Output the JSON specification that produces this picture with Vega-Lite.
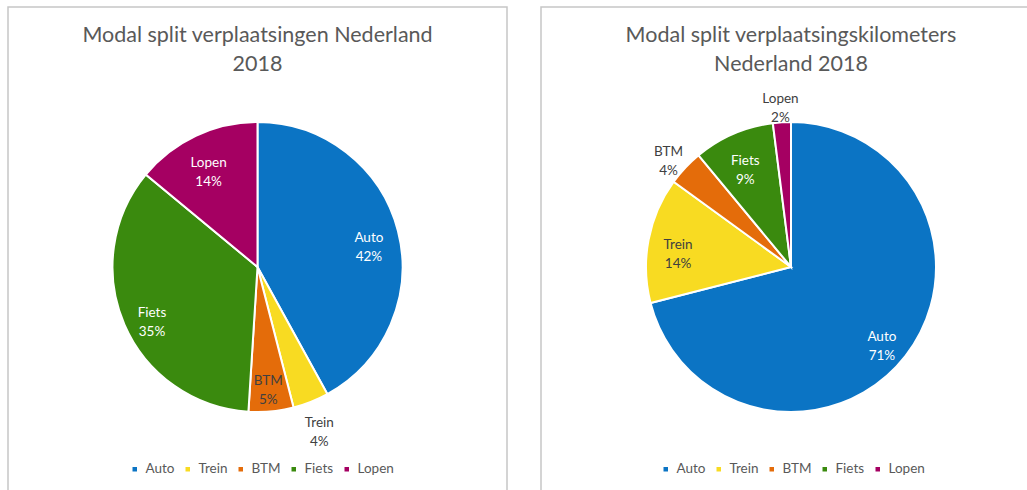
{
  "$schema": "https://vega.github.io/schema/vega-lite/v6.json",
  "background": "white",
  "padding": {"left": 7, "top": 6, "right": 0, "bottom": 0},
  "spacing": 32,
  "config": {
    "view": {"stroke": "#c6c6c6", "strokeWidth": 1.5},
    "font": "Lato",
    "title": {"font": "Lato", "fontSize": 21.5, "fontWeight": "normal", "color": "#595959", "lineHeight": 29, "anchor": "middle", "offset": -68},
    "legend": {"orient": "none", "legendY": 455, "direction": "horizontal", "symbolType": "square", "symbolSize": 36, "labelFontSize": 13.5, "labelColor": "#595959", "labelFont": "Lato", "columnPadding": 6, "labelOffset": 4, "title": null}
  },
  "datasets": {
    "verplaatsingen": [
      {"modaliteit": "Auto", "aandeel": 42, "rang": 1},
      {"modaliteit": "Trein", "aandeel": 4, "rang": 2},
      {"modaliteit": "BTM", "aandeel": 5, "rang": 3},
      {"modaliteit": "Fiets", "aandeel": 35, "rang": 4},
      {"modaliteit": "Lopen", "aandeel": 14, "rang": 5}
    ],
    "kilometers": [
      {"modaliteit": "Auto", "aandeel": 71, "rang": 1},
      {"modaliteit": "Trein", "aandeel": 14, "rang": 2},
      {"modaliteit": "BTM", "aandeel": 4, "rang": 3},
      {"modaliteit": "Fiets", "aandeel": 9, "rang": 4},
      {"modaliteit": "Lopen", "aandeel": 2, "rang": 5}
    ]
  },
  "resolve": {"scale": {"color": "independent"}, "legend": {"color": "independent"}},
  "hconcat": [
    {
      "width": 499,
      "height": 520,
      "view": {"stroke": "#c6c6c6", "strokeWidth": 1.5, "fill": "white"},
      "title": {"text": ["Modal split verplaatsingen Nederland", "2018"]},
      "data": {"name": "verplaatsingen"},
      "transform": [{"calculate": "datum.modaliteit + '\\n' + datum.aandeel + '%'", "as": "label"}],
      "encoding": {
        "theta": {"field": "aandeel", "type": "quantitative", "stack": true},
        "order": {"field": "rang", "type": "quantitative"}
      },
      "layer": [
        {
          "mark": {"type": "arc", "outerRadius": 145, "stroke": "white", "strokeWidth": 2},
          "encoding": {
            "color": {"field": "modaliteit", "type": "nominal",
              "scale": {"domain": ["Auto", "Trein", "BTM", "Fiets", "Lopen"], "range": ["#0B74C4", "#F8DB22", "#E46C0A", "#3A8A0E", "#A50062"]},
              "legend": {"legendX": 120}}
          }
        },
        {
          "mark": {"type": "text", "radius": 115, "fontSize": 13.5, "lineBreak": "\n", "lineHeight": 19, "font": "Lato"},
          "encoding": {
            "text": {"condition": {"test": "datum.aandeel >= 5", "field": "label"}, "value": ""},
            "color": {"condition": {"test": "datum.modaliteit == 'Trein' || datum.modaliteit == 'BTM'", "value": "#404040"}, "value": "white"}
          }
        },
        {
          "mark": {"type": "text", "radius": 168, "fontSize": 13.5, "lineBreak": "\n", "lineHeight": 19, "font": "Lato", "color": "#404040"},
          "encoding": {
            "text": {"condition": {"test": "datum.aandeel < 5", "field": "label"}, "value": ""}
          }
        }
      ]
    },
    {
      "width": 500,
      "height": 520,
      "view": {"stroke": "#c6c6c6", "strokeWidth": 1.5, "fill": "white"},
      "title": {"text": ["Modal split verplaatsingskilometers", "Nederland 2018"]},
      "data": {"name": "kilometers"},
      "transform": [{"calculate": "datum.modaliteit + '\\n' + datum.aandeel + '%'", "as": "label"}],
      "encoding": {
        "theta": {"field": "aandeel", "type": "quantitative", "stack": true},
        "order": {"field": "rang", "type": "quantitative"}
      },
      "layer": [
        {
          "mark": {"type": "arc", "outerRadius": 145, "stroke": "white", "strokeWidth": 2},
          "encoding": {
            "color": {"field": "modaliteit", "type": "nominal",
              "scale": {"domain": ["Auto", "Trein", "BTM", "Fiets", "Lopen"], "range": ["#0B74C4", "#F8DB22", "#E46C0A", "#3A8A0E", "#A50062"]},
              "legend": {"legendX": 118}}
          }
        },
        {
          "mark": {"type": "text", "radius": 115, "fontSize": 13.5, "lineBreak": "\n", "lineHeight": 19, "font": "Lato"},
          "encoding": {
            "text": {"condition": {"test": "datum.aandeel >= 5", "field": "label"}, "value": ""},
            "color": {"condition": {"test": "datum.modaliteit == 'Trein' || datum.modaliteit == 'BTM'", "value": "#404040"}, "value": "white"}
          }
        },
        {
          "mark": {"type": "text", "radius": 168, "fontSize": 13.5, "lineBreak": "\n", "lineHeight": 19, "font": "Lato", "color": "#404040"},
          "encoding": {
            "text": {"condition": {"test": "datum.aandeel < 5", "field": "label"}, "value": ""}
          }
        }
      ]
    }
  ]
}
